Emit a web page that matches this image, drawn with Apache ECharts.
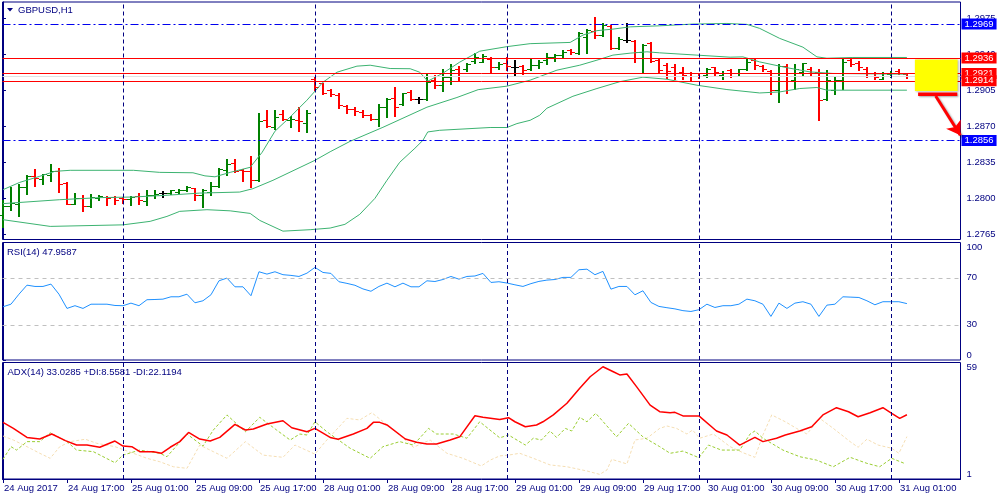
<!DOCTYPE html>
<html><head><meta charset="utf-8">
<script src="https://cdn.jsdelivr.net/npm/echarts@6/dist/echarts.min.js"></script>
<style>html,body{margin:0;padding:0;background:#fff}#c{width:1000px;height:500px}</style>
</head><body><div id="c"></div>
<script>
// ---------- data ----------
const xLabels = ['24 Aug 2017','24 Aug 17:00','25 Aug 01:00','25 Aug 09:00','25 Aug 17:00','28 Aug 01:00','28 Aug 09:00','28 Aug 17:00','29 Aug 01:00','29 Aug 09:00','29 Aug 17:00','30 Aug 01:00','30 Aug 09:00','30 Aug 17:00','31 Aug 01:00'];
const xTickIdx = [0,8,16,24,32,40,48,56,64,72,80,88,96,104,112];
const daySeparators = [15,39,63,87,111];
const priceTicks = [1.2765,1.2800,1.2835,1.2870,1.2905,1.2940,1.2975];
const rsiTicks = [0,30,70,100];
const rsiLevels = [30,70];
const adxTicks = [1,59];
const redLevels = [1.2936,1.2921,1.2914];
const blueLevels = [1.2969,1.2856];

const opens = [1.27835,1.27925,1.27949,1.28110,1.28214,1.28191,1.28223,1.28265,1.28152,1.27949,
1.28003,1.27922,1.28000,1.28013,1.28013,1.28003,1.27997,1.28019,1.27971,1.28036,
1.28051,1.28051,1.28061,1.28078,1.28100,1.28029,1.28058,1.28117,1.28272,1.28343,
1.28277,1.28262,1.28175,1.28757,1.28692,1.28816,1.28757,1.28757,1.28728,1.29155,
1.29114,1.29049,1.29000,1.28893,1.28864,1.28838,1.28806,1.28767,1.28887,1.28971,
1.28913,1.29032,1.28961,1.28961,1.29146,1.29097,1.29178,1.29259,1.29250,1.29330,
1.29323,1.29356,1.29270,1.29311,1.29272,1.29282,1.29253,1.29291,1.29340,1.29372,
1.29389,1.29437,1.29405,1.29566,1.29622,1.29583,1.29673,1.29459,1.29534,1.29524,
1.29421,1.29502,1.29340,1.29291,1.29272,1.29226,1.29211,1.29211,1.29194,1.29270,
1.29194,1.29243,1.29211,1.29250,1.29340,1.29282,1.29236,1.29055,1.29282,1.29146,
1.29226,1.29250,1.29226,1.28968,1.29049,1.29146,1.29340,1.29314,1.29259,1.29211,
1.29162,1.29201,1.29236,1.29204];
const highs = [1.27987,1.28110,1.28143,1.28223,1.28288,1.28233,1.28337,1.28298,1.28158,1.28051,
1.28029,1.28046,1.28036,1.28019,1.28019,1.28013,1.28019,1.28051,1.28078,1.28078,
1.28068,1.28084,1.28087,1.28120,1.28104,1.28094,1.28158,1.28294,1.28385,1.28379,
1.28288,1.28408,1.28828,1.28854,1.28854,1.28854,1.28796,1.28887,1.28854,1.29178,
1.29120,1.29058,1.29017,1.28903,1.28881,1.28854,1.28816,1.28913,1.28975,1.29078,
1.29022,1.29049,1.28984,1.29214,1.29194,1.29253,1.29301,1.29282,1.29314,1.29408,
1.29395,1.29366,1.29318,1.29366,1.29340,1.29291,1.29347,1.29340,1.29405,1.29395,
1.29437,1.29447,1.29615,1.29641,1.29760,1.29696,1.29680,1.29560,1.29696,1.29534,
1.29492,1.29512,1.29356,1.29308,1.29298,1.29275,1.29226,1.29217,1.29265,1.29275,
1.29236,1.29259,1.29259,1.29350,1.29356,1.29291,1.29243,1.29301,1.29301,1.29301,
1.29314,1.29270,1.29250,1.29243,1.29185,1.29347,1.29347,1.29333,1.29275,1.29226,
1.29221,1.29236,1.29250,1.29211];
const lows = [1.27721,1.27890,1.27825,1.28046,1.28117,1.28143,1.28168,1.28061,1.27942,1.27942,
1.27877,1.27916,1.27981,1.27932,1.27949,1.27954,1.27939,1.27942,1.27939,1.28007,
1.28013,1.28046,1.28051,1.28071,1.27987,1.27916,1.28029,1.28110,1.28223,1.28255,
1.28165,1.28107,1.28165,1.28692,1.28677,1.28757,1.28692,1.28653,1.28644,1.29049,
1.29010,1.28990,1.28874,1.28825,1.28806,1.28789,1.28757,1.28702,1.28787,1.28796,
1.28905,1.28952,1.28929,1.28952,1.29071,1.29042,1.29107,1.29136,1.29236,1.29311,
1.29318,1.29226,1.29259,1.29243,1.29188,1.29209,1.29243,1.29265,1.29301,1.29333,
1.29372,1.29395,1.29398,1.29411,1.29551,1.29576,1.29450,1.29447,1.29512,1.29318,
1.29226,1.29318,1.29221,1.29168,1.29155,1.29162,1.29136,1.29168,1.29178,1.29188,
1.29162,1.29178,1.29185,1.29243,1.29250,1.29236,1.29010,1.28935,1.29022,1.29065,
1.29194,1.29185,1.28764,1.28958,1.29010,1.29065,1.29282,1.29243,1.29178,1.29162,
1.29153,1.29178,1.29201,1.29168];
const closes = [1.27929,1.27954,1.28110,1.28217,1.28201,1.28233,1.28265,1.28143,1.27949,1.28003,
1.27925,1.28013,1.28019,1.28003,1.27987,1.27993,1.28013,1.27987,1.28032,1.28046,
1.28051,1.28078,1.28078,1.28110,1.28029,1.28084,1.28117,1.28288,1.28330,1.28265,
1.28262,1.28175,1.28748,1.28699,1.28789,1.28767,1.28774,1.28748,1.28828,1.29081,
1.29022,1.29010,1.28903,1.28864,1.28845,1.28806,1.28767,1.28887,1.28960,1.28887,
1.29017,1.28961,1.28961,1.29129,1.29097,1.29178,1.29243,1.29211,1.29301,1.29372,
1.29379,1.29270,1.29301,1.29282,1.29272,1.29243,1.29291,1.29323,1.29372,1.29389,
1.29421,1.29418,1.29599,1.29631,1.29583,1.29680,1.29459,1.29541,1.29534,1.29421,
1.29486,1.29330,1.29243,1.29233,1.29211,1.29194,1.29185,1.29185,1.29253,1.29226,
1.29217,1.29211,1.29250,1.29323,1.29291,1.29250,1.29055,1.29282,1.29139,1.29259,
1.29308,1.29211,1.28958,1.29146,1.29146,1.29323,1.29301,1.29275,1.29211,1.29178,
1.29211,1.29217,1.29211,1.29185];

// Bollinger bands: [bar index, price]
const bbUpper = [[0,1.28084],[2.1,1.28155],[4.6,1.28214],[6.5,1.28262],[8.4,1.28272],[16.3,1.28272],[19.6,1.28252],[23.75,1.28248],[25.25,1.28218],[26.5,1.28209],[28.4,1.28252],[30.9,1.28301],[32.4,1.28447],[34,1.28651],[35.9,1.28789],[38,1.28952],[40,1.29126],[41.75,1.29223],[44.25,1.29282],[45.9,1.29291],[48.4,1.29259],[50.9,1.29257],[52.1,1.29223],[53.1,1.29136],[55,1.29214],[57.1,1.29321],[59.6,1.29427],[63,1.29471],[65.9,1.29500],[70.9,1.29512],[72.5,1.29583],[74.25,1.29626],[76.25,1.29641],[78.4,1.29663],[82.1,1.29673],[86.25,1.29690],[90.5,1.29696],[93,1.29687],[94.6,1.29648],[97.1,1.29551],[100,1.29466],[101.75,1.29372],[103,1.29359],[106.25,1.29366],[113,1.29366]];
const bbMiddle = [[0,1.27949],[7.1,1.27987],[12.1,1.28007],[16.25,1.28013],[20.25,1.28029],[24.6,1.28051],[29.6,1.28061],[31.25,1.28094],[33.75,1.28175],[39,1.28369],[40.9,1.28452],[43.4,1.28553],[47.5,1.28689],[53,1.28884],[56.75,1.28978],[59.4,1.29054],[63,1.29088],[65.9,1.29146],[69.25,1.29243],[72.1,1.29291],[74.25,1.29340],[76.25,1.29389],[78.4,1.29408],[80.5,1.29421],[82.1,1.29411],[86.75,1.29389],[90.9,1.29369],[92.5,1.29372],[94.6,1.29323],[98,1.29267],[100.9,1.29226],[103.75,1.29211],[113,1.29204]];
const bbLower = [[0,1.27793],[5.9,1.27728],[15,1.27743],[18.4,1.27777],[20.5,1.27825],[22.1,1.27874],[25.5,1.27890],[28.4,1.27879],[30.9,1.27854],[32.1,1.27786],[35,1.27682],[38.4,1.27696],[40.9,1.27712],[42.75,1.27748],[44.6,1.27845],[46.5,1.28000],[48,1.28175],[49.6,1.28350],[51.5,1.28486],[52.5,1.28563],[53.1,1.28644],[54.6,1.28660],[60.9,1.28687],[63,1.28687],[64.25,1.28725],[65.9,1.28757],[67.1,1.28806],[68,1.28874],[71.25,1.28990],[74.25,1.29065],[77.1,1.29131],[80,1.29175],[83,1.29155],[86.75,1.29097],[90.5,1.29055],[94.6,1.29022],[97.1,1.29032],[99.6,1.29065],[101.75,1.29075],[103,1.29049],[113,1.29049]];

const rsi = [[0,45.3],[1,47.5],[2,56],[3,63.7],[4,62.6],[5,62.6],[6,64.6],[7,56],[8,43.9],[9,46.2],[10,43.9],[11,47.5],[12,47.5],[13,47.5],[14,46.4],[15,46.2],[16,48.4],[17,46.2],[18,51.3],[19,51.5],[20,51.8],[21,53.8],[22,53.8],[23,56],[24,48.7],[25,50.4],[26,55.5],[27,67.4],[28,69.7],[29,62.3],[30,62.3],[31,54.7],[32,75.1],[33,73.1],[34,75.1],[35,72.6],[36,72],[37,71.1],[38,73.9],[39,78.8],[40,74.5],[41,73.7],[42,66.6],[43,65.2],[44,63.6],[45,60.5],[46,58.5],[47,62.6],[48,65.4],[49,62.3],[50,65.4],[51,62.3],[52,62.3],[53,67.4],[54,66.8],[55,68.5],[56,71.1],[57,68.8],[58,71.1],[59,71.5],[60,73.7],[61,66],[62,66.6],[63,65.5],[64,64],[65,62.6],[66,65],[67,66.9],[68,68],[69,68.5],[70,70.3],[71,70.3],[72,76.8],[73,77.3],[74,72.6],[75,75.4],[76,60.3],[77,62.6],[78,62.6],[79,55.5],[80,58.9],[81,49],[82,45.6],[83,44.5],[84,43.5],[85,42],[86,41.3],[87,42.8],[88,47.5],[89,44.7],[90,46.2],[91,46.2],[92,47.5],[93,51.8],[94,50.4],[95,47.5],[96,37.1],[97,48.4],[98,43.9],[99,48.4],[100,49.6],[101,47.5],[102,37.1],[103,46.7],[104,47.5],[105,53.8],[106,53.5],[107,53.2],[108,50.4],[109,47],[110,49.6],[111,49.6],[112,49.6],[113,48]];

const adx = [[0,29.2],[1.3,26.2],[3,21.7],[4.6,20.9],[6.1,23.4],[7.8,20.1],[9.2,17.9],[10.5,17.9],[12.1,16.8],[14,19.9],[15,17.4],[16.1,17.1],[17.1,14.6],[18.8,14.6],[19.8,13.8],[20.9,16.8],[22.1,19.6],[23.2,24.2],[24.6,20.9],[25.9,19.9],[27.1,21.7],[29,28.2],[30.3,25.4],[31.3,25.9],[33,28.4],[35,30.0],[36.1,26.5],[38,24.5],[39,26.2],[40.9,21.7],[41.9,20.8],[43.8,23.4],[45.5,26.2],[46.3,29.2],[47.1,29.2],[48,27.9],[50.3,20.9],[51.7,19.3],[53,18.4],[54.2,18.4],[55.9,20.4],[57.1,22.0],[59,32.5],[60,31.7],[62.1,30.6],[63.2,31.5],[64,29.5],[65.3,27.0],[66.7,27.9],[67.5,29.5],[68.8,32.9],[70.5,38.7],[72.1,46.2],[73.4,51.9],[75,56.9],[76.3,54.4],[77.1,52.8],[78,53.3],[79.2,47.0],[80.9,37.8],[82.1,34.5],[83.4,34.0],[84,34.2],[85,32.4],[87,32.4],[89.2,24.9],[90.5,22.9],[92.1,17.9],[94,21.7],[95,19.6],[96.7,21.3],[97.8,22.9],[99.6,24.9],[101.1,27.0],[102.5,32.9],[104.2,36.5],[105.7,34.5],[106.9,32.0],[108.4,34.0],[110,36.5],[111.1,33.7],[112.1,31.2],[113,33.0]];
const plusDI = [[0,10.8],[1,17.1],[1.7,15.4],[3,19.6],[4.6,19.6],[5.9,24.0],[8,19.6],[9.2,15.4],[11.3,14.6],[14,9.1],[15,12.9],[17.1,15.4],[19.6,13.8],[20.5,12.1],[23,23.4],[25,17.4],[26.3,25.4],[28,32.9],[30.3,24.5],[32.1,31.7],[34.2,25.4],[35.9,20.4],[37.1,23.4],[38,22.9],[39,29.5],[40.5,24.5],[43.4,16.3],[45.9,11.3],[47.5,17.1],[49.6,19.6],[51.3,17.9],[53.2,26.2],[54.2,23.4],[56.3,23.4],[58,21.3],[59.6,29.5],[62.1,21.5],[63.2,22.9],[65.3,17.9],[66.3,21.3],[67.3,20.4],[68.4,24.9],[69.2,21.7],[70.3,26.2],[71.1,24.9],[72.1,31.7],[73,29.5],[74.1,33.7],[76.7,22.0],[78.2,28.7],[80,22.0],[82.1,17.1],[83.4,13.8],[85,14.9],[87,11.6],[88.2,17.9],[89.8,15.4],[92.1,15.4],[93.4,23.4],[94,24.9],[95,21.3],[97.5,15.4],[99.6,12.1],[101.7,10.4],[103.8,7.1],[105.9,11.8],[108,8.8],[109.6,7.1],[111.1,11.3],[112.8,8.6]];
const minusDI = [[0,22.4],[1.3,20.4],[3,17.1],[4.6,13.8],[5.9,11.3],[7.1,17.1],[8.4,19.6],[10.3,20.8],[11.7,18.8],[14,17.1],[16.3,13.8],[18,11.3],[19.6,9.6],[21.3,7.1],[23,6.3],[24.6,17.9],[26.3,14.6],[28,11.3],[30.3,19.6],[32.5,12.9],[35,11.8],[36.5,17.9],[39,13.4],[40.3,19.6],[43,31.2],[44.6,30.4],[46.1,34.0],[48.6,26.2],[51.3,16.8],[53.4,20.4],[55.5,13.8],[57.5,11.3],[59.8,7.5],[60.9,10.4],[62.1,12.5],[63.2,12.9],[64.6,13.8],[66.3,11.3],[68.4,8.0],[70.5,7.1],[73,5.0],[74.6,3.3],[75.5,5.5],[76.1,10.8],[78,8.5],[79,20.4],[80.5,21.3],[82.1,26.2],[83,27.4],[84.2,26.2],[85.5,23.4],[86.2,25.4],[87.1,21.3],[88.8,23.4],[90.9,17.1],[92.5,14.1],[94,11.8],[95,22.9],[96.1,32.9],[97.8,29.5],[99.2,26.2],[100.5,23.4],[102.1,31.2],[103.8,26.2],[105.9,19.6],[106.9,16.8],[108,20.8],[109.4,17.9],[111.1,16.3],[112,13.8],[113,22.1]];

// annotation (yellow box, red bar, arrow) in data coordinates
const boxArea = [[114.0,1.29347],[119.34,1.29042]];
const barArea = [[114.4,1.29026],[119.3,1.28993]];
const arrowLine = [[116.6,1.28993],[119.68,1.28612]];

// ---------- chart ----------
const FONT = "'Liberation Sans', Arial, sans-serif";
const NAVY = '#000080';
const XMIN = -0.06, XMAX = 119.7;
const FS = 9.5;
const chart = echarts.init(document.getElementById('c'), null, {renderer:'canvas'});
const ohlc = opens.map((o,i)=>[i,o,highs[i],lows[i],closes[i]]);
const sepItems = daySeparators.map(v=>({xAxis:v, lineStyle:{color:NAVY,type:[4,3],width:1}, label:{show:false}}));

function boxLabel(bg){
  return {show:true, position:'end', distance:1, formatter:p=>Number(p.value).toFixed(4),
    color:'#fff', backgroundColor:bg, padding:[1,3,0,3], fontSize:FS, fontFamily:FONT, lineHeight:10};
}
const blueItems = blueLevels.map(v=>({yAxis:v, lineStyle:{color:'#0000ee',type:[8,3,2,3],width:1}, label:boxLabel('#0000ff')}));
const bidItem = {yAxis:closes[closes.length-1], lineStyle:{color:'#e2e2e2',type:'solid',width:1}, label:{show:false}};
const redItems = redLevels.map(v=>({yAxis:v, lineStyle:{color:'#ff0000',type:'solid',width:1}, label:boxLabel('#ff0000')}));
const arrowStyle = {color:'#ff0000', width:3, type:'solid', shadowColor:'rgba(0,0,0,0.35)', shadowBlur:2, shadowOffsetX:2, shadowOffsetY:2};
const arrowItem = [
  {coord:arrowLine[0], symbol:'none', lineStyle:arrowStyle, label:{show:false}},
  {coord:arrowLine[1], symbol:'arrow', symbolSize:13, lineStyle:arrowStyle, label:{show:false}}
];

function xAxisFor(g){
  const show = g===2;
  return {gridIndex:g, type:'value', min:XMIN, max:XMAX,
    axisLine:{show:show, lineStyle:{color:NAVY}},
    axisTick:{show:show, customValues:xTickIdx, length:4, lineStyle:{color:NAVY}},
    axisLabel:{show:show, customValues:xTickIdx, formatter:v=>xLabels[Math.round(v/8)]||'', align:'left',
      color:NAVY, fontSize:FS, fontFamily:FONT, margin:4, padding:[0,0,0,1]},
    splitLine:{show:false}};
}
function yAxisFor(g,min,max,ticks,fmt){
  return {gridIndex:g, type:'value', position:'right', min:min, max:max,
    axisLine:{show:true, lineStyle:{color:NAVY}},
    axisTick:{show:true, customValues:ticks, length:3, lineStyle:{color:NAVY}},
    axisLabel:{customValues:ticks, formatter:fmt, color:NAVY, fontSize:FS, fontFamily:FONT, margin:6,
      verticalAlignMinLabel: g===0?'middle':'bottom', verticalAlignMaxLabel: g===0?'middle':'top'},
    splitLine:{show:false}};
}
const gridBase = {left:2.5, right:39.5, show:true, borderColor:NAVY, borderWidth:1, backgroundColor:'transparent', containLabel:false, outerBoundsMode:'none'};

const option = {
  animation:false,
  backgroundColor:'#ffffff',
  textStyle:{fontFamily:FONT},
  grid:[
    Object.assign({top:2, height:237.5}, gridBase),
    Object.assign({top:242.5, height:117.5}, gridBase),
    Object.assign({top:362.5, height:116.5}, gridBase)
  ],
  xAxis:[xAxisFor(0), xAxisFor(1), xAxisFor(2)],
  yAxis:[
    yAxisFor(0,1.27601,1.29904,priceTicks,v=>v.toFixed(4)),
    yAxisFor(1,0,100,rsiTicks,v=>String(v)),
    yAxisFor(2,1,59,adxTicks,v=>String(v))
  ],
  graphic:[
    {type:'polygon', shape:{points:[[7,8],[13,8],[10,11.5]]}, style:{fill:NAVY}},
    {type:'text', x:18, y:10, style:{text:'GBPUSD,H1', font:FS+'px '+FONT, fill:NAVY, textVerticalAlign:'middle'}},
    {type:'text', x:7, y:252, style:{text:'RSI(14) 47.9587', font:FS+'px '+FONT, fill:NAVY, textVerticalAlign:'middle'}},
    {type:'text', x:7.5, y:372, style:{text:'ADX(14) 33.0285 +DI:8.5581 -DI:22.1194', font:FS+'px '+FONT, fill:NAVY, textVerticalAlign:'middle'}}
  ],
  series:[
    {type:'line', name:'BB upper', xAxisIndex:0, yAxisIndex:0, data:bbUpper, symbol:'none', silent:true, clip:false,
      lineStyle:{color:'#3CB371', width:1},
      markLine:{silent:true, symbol:'none', precision:5, animation:false, data: [bidItem].concat(redItems)}},
    {type:'line', name:'BB lower', xAxisIndex:0, yAxisIndex:0, data:bbLower, symbol:'none', silent:true, clip:false,
      lineStyle:{color:'#3CB371', width:1},
      markLine:{silent:true, symbol:'none', precision:5, animation:false, z:7, data: [arrowItem]}},
    {type:'line', name:'BB middle', xAxisIndex:0, yAxisIndex:0, data:bbMiddle, symbol:'none', silent:true, clip:false,
      lineStyle:{color:'#3CB371', width:1},
      markLine:{silent:true, symbol:'none', precision:5, animation:false, data: sepItems.concat(blueItems)},
      markArea:{silent:true, z:6, animation:false, data:[
        [{coord:boxArea[0], itemStyle:{color:'#ffff00', opacity:1, shadowColor:'rgba(0,0,0,0.25)', shadowBlur:2, shadowOffsetX:1, shadowOffsetY:1}},{coord:boxArea[1]}],
        [{coord:barArea[0], itemStyle:{color:'#ff0000', opacity:1, shadowColor:'rgba(0,0,0,0.35)', shadowBlur:2, shadowOffsetX:1, shadowOffsetY:1}},{coord:barArea[1]}]
      ]}},
    {type:'custom', name:'GBPUSD', xAxisIndex:0, yAxisIndex:0, data:ohlc, silent:true,
      encode:{x:0, y:[1,2,3,4]},
      renderItem:function(params, api){
        const i=api.value(0), o=api.value(1), h=api.value(2), l=api.value(3), c=api.value(4);
        const pH=api.coord([i,h]), pL=api.coord([i,l]), pO=api.coord([i,o]), pC=api.coord([i,c]);
        const col = c>o ? '#008000' : (c<o ? '#ff0000' : '#000000');
        const x = Math.round(pH[0]);
        const yo = Math.round(pO[1])+0.5, yc = Math.round(pC[1])+0.5;
        return {type:'group', children:[
          {type:'line', shape:{x1:x, y1:Math.round(pH[1]), x2:x, y2:Math.round(pL[1])+1}, style:{stroke:col, lineWidth:2}},
          {type:'line', shape:{x1:x-4, y1:yo, x2:x, y2:yo}, style:{stroke:col, lineWidth:1}},
          {type:'line', shape:{x1:x, y1:yc, x2:x+4, y2:yc}, style:{stroke:col, lineWidth:1}}
        ]};
      }},
    {type:'line', name:'RSI', xAxisIndex:1, yAxisIndex:1, data:rsi, symbol:'none', silent:true,
      lineStyle:{color:'#1E90FF', width:1},
      markLine:{silent:true, symbol:'none', animation:false, data: sepItems.concat(
        rsiLevels.map(v=>({yAxis:v, lineStyle:{color:'#c0c0c0', type:[4,4], width:1}, label:{show:false}})))}},
    {type:'line', name:'-DI', xAxisIndex:2, yAxisIndex:2, data:minusDI, symbol:'none', silent:true,
      lineStyle:{color:'#F5DEB3', width:1, type:[3,2]},
      markLine:{silent:true, symbol:'none', animation:false, data: sepItems}},
    {type:'line', name:'+DI', xAxisIndex:2, yAxisIndex:2, data:plusDI, symbol:'none', silent:true,
      lineStyle:{color:'#9ACD32', width:1, type:[3,2]}},
    {type:'line', name:'ADX', xAxisIndex:2, yAxisIndex:2, data:adx, symbol:'none', silent:true,
      lineStyle:{color:'#ff0000', width:1.5}}
  ]
};
chart.setOption(option);
</script>
</body></html>
